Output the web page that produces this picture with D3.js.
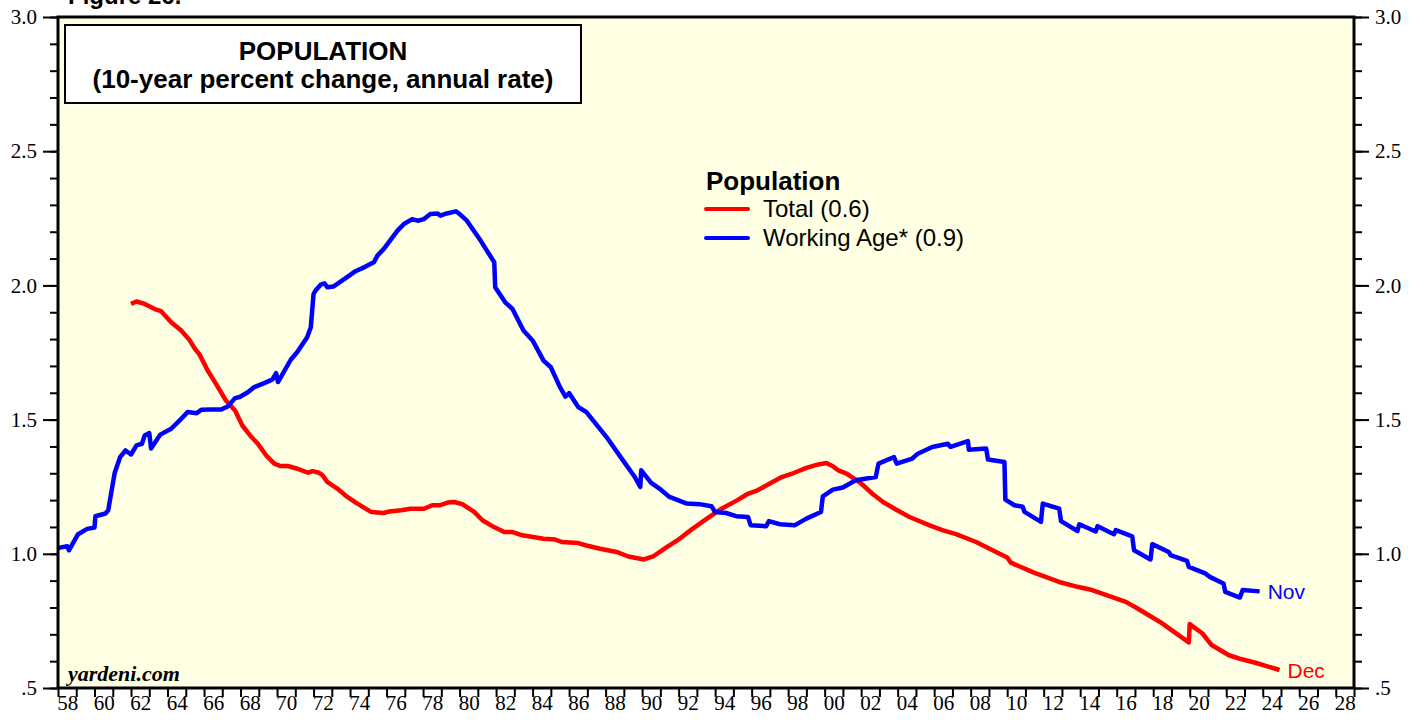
<!DOCTYPE html>
<html>
<head>
<meta charset="utf-8">
<script src="https://cdn.jsdelivr.net/npm/d3@7"></script>
<style>
  body { margin: 0; background: #fff; }
  svg { display: block; }
</style>
</head>
<body>
<svg id="chart" width="1419" height="721"></svg>
<script>
// Total population, 10-yr % change (annual rate); dates as decimal years
const totalDates = [1962.0,1962.3,1962.75,1963.3,1963.65,1964.2,1964.75,1965.2,1965.5,1965.75,1966.2,1966.65,1967.2,1967.7,1968.1,1968.6,1968.95,1969.4,1969.85,1970.2,1970.6,1971.1,1971.7,1971.95,1972.3,1972.5,1972.75,1973.3,1973.85,1974.4,1975.15,1975.85,1976.15,1976.8,1977.3,1978.05,1978.5,1978.95,1979.35,1979.7,1980.15,1980.8,1981.25,1981.8,1982.45,1982.9,1983.45,1984.6,1985.25,1985.6,1986.5,1986.95,1987.7,1988.6,1989.25,1990.1,1990.6,1991.35,1992.05,1992.7,1993.55,1994.35,1995.2,1995.75,1996.25,1997.0,1997.65,1998.3,1999.0,1999.65,2000.1,2000.45,2000.75,2001.2,2002.0,2002.65,2003.2,2003.9,2004.65,2005.75,2006.45,2007.2,2008.3,2009.2,2010.0,2010.2,2011.5,2012.85,2013.85,2014.65,2015.6,2016.5,2017.05,2018.35,2019.95,2020.0,2020.7,2021.2,2022.15,2022.85,2023.6,2024.92];
const totalValues = [1.931,1.94,1.931,1.912,1.904,1.863,1.832,1.797,1.764,1.743,1.683,1.634,1.571,1.534,1.478,1.435,1.41,1.367,1.336,1.327,1.327,1.317,1.302,1.308,1.302,1.292,1.268,1.243,1.212,1.187,1.156,1.152,1.158,1.162,1.168,1.168,1.181,1.181,1.191,1.193,1.185,1.156,1.125,1.103,1.081,1.081,1.069,1.056,1.053,1.044,1.040,1.031,1.019,1.007,0.99,0.979,0.99,1.025,1.056,1.09,1.131,1.168,1.199,1.222,1.234,1.262,1.286,1.301,1.320,1.333,1.338,1.326,1.311,1.299,1.262,1.222,1.193,1.165,1.137,1.106,1.088,1.073,1.044,1.013,0.986,0.967,0.929,0.895,0.877,0.865,0.842,0.821,0.80,0.747,0.670,0.738,0.703,0.66,0.622,0.607,0.594,0.567];

// Working age population
const workDates = [1958.0,1958.1,1958.5,1958.6,1959.1,1959.6,1960.0,1960.05,1960.6,1960.75,1961.1,1961.4,1961.7,1962.0,1962.3,1962.6,1962.75,1963.0,1963.1,1963.6,1964.2,1964.75,1965.1,1965.6,1965.85,1966.4,1966.95,1967.3,1967.7,1967.95,1968.4,1968.75,1969.3,1969.75,1969.95,1970.05,1970.75,1971.1,1971.65,1971.85,1972.0,1972.1,1972.4,1972.6,1972.75,1973.1,1973.7,1974.3,1974.85,1975.3,1975.5,1975.85,1976.6,1976.95,1977.4,1977.7,1978.05,1978.4,1978.8,1978.95,1979.3,1979.8,1980.05,1980.4,1981.15,1981.9,1981.95,1982.5,1982.9,1983.5,1984.0,1984.6,1985.0,1985.5,1985.8,1986.0,1986.5,1986.95,1988.05,1988.95,1989.6,1989.9,1989.95,1990.5,1990.95,1991.5,1992.45,1993.15,1993.8,1994.0,1994.6,1995.15,1995.8,1995.95,1996.8,1996.95,1997.55,1998.35,1999.0,1999.8,1999.9,2000.45,2001.0,2001.7,2002.8,2002.95,2003.8,2003.95,2004.8,2005.1,2005.9,2006.75,2006.9,2007.85,2007.9,2008.85,2008.95,2009.85,2009.9,2010.4,2010.85,2010.95,2011.85,2011.95,2012.85,2012.95,2013.85,2013.95,2014.85,2014.95,2015.85,2015.95,2016.85,2016.95,2017.85,2017.95,2018.85,2018.95,2019.85,2019.95,2020.85,2021.1,2021.85,2021.95,2022.75,2022.9,2023.83];
const workValues = [1.02,1.023,1.028,1.013,1.073,1.093,1.098,1.14,1.15,1.162,1.30,1.36,1.385,1.37,1.404,1.410,1.441,1.45,1.392,1.444,1.466,1.503,1.528,1.524,1.537,1.538,1.538,1.549,1.58,1.584,1.602,1.621,1.636,1.65,1.673,1.64,1.723,1.751,1.807,1.844,1.968,1.98,2.003,2.008,1.993,1.996,2.024,2.053,2.07,2.086,2.111,2.136,2.204,2.229,2.247,2.241,2.247,2.266,2.268,2.26,2.268,2.276,2.263,2.241,2.167,2.086,1.993,1.937,1.912,1.832,1.795,1.72,1.695,1.621,1.586,1.599,1.547,1.528,1.435,1.348,1.286,1.249,1.311,1.264,1.243,1.212,1.187,1.185,1.177,1.156,1.152,1.140,1.137,1.106,1.103,1.122,1.11,1.106,1.131,1.156,1.214,1.239,1.247,1.274,1.286,1.336,1.36,1.336,1.355,1.373,1.398,1.41,1.398,1.42,1.388,1.392,1.351,1.342,1.202,1.181,1.175,1.156,1.119,1.187,1.168,1.122,1.085,1.11,1.083,1.103,1.073,1.088,1.065,1.013,0.979,1.036,1.007,0.995,0.974,0.951,0.927,0.914,0.889,0.858,0.837,0.865,0.86];

const yMajorTicks = [0.5, 1.0, 1.5, 2.0, 2.5, 3.0];
const yMajorLabels = [".5", "1.0", "1.5", "2.0", "2.5", "3.0"];
const yMinorTicks = d3.range(5, 31).map(d => d / 10);
const yearTicks = d3.range(1958, 2030);
const xLabelYears = d3.range(1958, 2029, 2);
const xLabels = xLabelYears.map(y => String(y % 100).padStart(2, '0'));

const seriesNames = ["Total (0.6)", "Working Age* (0.9)"];
const seriesColors = ["#ff0000", "#0000ff"];
const endLabels = ["Dec", "Nov"];

const svg = d3.select('#chart');
const plotLeft = 58, plotRight = 1354, plotTop = 17, plotBottom = 688;

const x = d3.scaleLinear().domain([1958, 2029]).range([plotLeft, plotRight]);
const y = d3.scaleLinear().domain([0.5, 3.0]).range([plotBottom, plotTop]);

// plot background
svg.append('rect')
  .attr('x', plotLeft).attr('y', plotTop)
  .attr('width', plotRight - plotLeft).attr('height', plotBottom - plotTop)
  .attr('fill', '#ffffe3');

// figure caption, cut at the top edge as in the original
svg.append('text')
  .attr('x', 68).attr('y', 4)
  .attr('font-family', 'Liberation Sans, Arial, sans-serif')
  .attr('font-weight', 'bold').attr('font-size', 24)
  .text('Figure 26.');

// y axes: minor + major, left and right
function yAxis(gen, xpos, values, size, labels) {
  const g = svg.append('g')
    .attr('transform', `translate(${xpos},0)`)
    .call(gen(y).tickValues(values).tickSize(size).tickPadding(6)
      .tickFormat((d, i) => labels ? labels[i] : ''));
  g.select('.domain').remove();
  g.selectAll('line').attr('stroke', '#000').attr('stroke-width', 2);
  g.selectAll('text')
    .attr('font-family', 'Liberation Serif, Times New Roman, serif')
    .attr('font-size', 21).attr('fill', '#000');
}
yAxis(d3.axisLeft, plotLeft, yMinorTicks, 8, null);
yAxis(d3.axisLeft, plotLeft, yMajorTicks, 15, yMajorLabels);
yAxis(d3.axisRight, plotRight, yMinorTicks, 8, null);
yAxis(d3.axisRight, plotRight, yMajorTicks, 15, yMajorLabels);

// x axis: year ticks, labels centred in the year
const gx = svg.append('g')
  .attr('transform', `translate(0,${plotBottom})`)
  .call(d3.axisBottom(x).tickValues(yearTicks).tickSize(9).tickFormat(''));
gx.select('.domain').remove();
gx.selectAll('line').attr('stroke', '#000').attr('stroke-width', 2);

const gxl = svg.append('g')
  .attr('transform', `translate(0,${plotBottom})`)
  .call(d3.axisBottom(x).tickValues(xLabelYears.map(d => d + 0.5)).tickSize(0).tickPadding(7)
    .tickFormat((d, i) => xLabels[i]));
gxl.select('.domain').remove();
gxl.selectAll('text')
  .attr('font-family', 'Liberation Serif, Times New Roman, serif')
  .attr('font-size', 21).attr('fill', '#000');

// lines
svg.append('clipPath').attr('id', 'clip')
  .append('rect').attr('x', plotLeft).attr('y', plotTop)
  .attr('width', plotRight - plotLeft).attr('height', plotBottom - plotTop);

const line = d3.line().x(d => x(d[0])).y(d => y(d[1]));
const series = [
  d3.zip(totalDates, totalValues),
  d3.zip(workDates, workValues)
];

series.forEach((data, i) => {
  svg.append('path')
    .datum(data)
    .attr('clip-path', 'url(#clip)')
    .attr('fill', 'none')
    .attr('stroke', seriesColors[i])
    .attr('stroke-width', 4.5)
    .attr('stroke-linejoin', 'round')
    .attr('d', line);

  const last = data[data.length - 1];
  svg.append('text')
    .attr('x', x(last[0]) + 8)
    .attr('y', y(last[1]) + 8)
    .attr('font-family', 'Liberation Sans, Arial, sans-serif')
    .attr('font-size', 21)
    .attr('fill', seriesColors[i])
    .text(endLabels[i]);
});

// frame
svg.append('rect')
  .attr('x', plotLeft).attr('y', plotTop)
  .attr('width', plotRight - plotLeft).attr('height', plotBottom - plotTop)
  .attr('fill', 'none').attr('stroke', '#000').attr('stroke-width', 3);

// title box
svg.append('rect')
  .attr('x', 65).attr('y', 25).attr('width', 516).attr('height', 78)
  .attr('fill', '#fff').attr('stroke', '#000').attr('stroke-width', 2);
const title = svg.append('text')
  .attr('text-anchor', 'middle')
  .attr('font-family', 'Liberation Sans, Arial, sans-serif')
  .attr('font-weight', 'bold').attr('font-size', 26);
title.append('tspan').attr('x', 323).attr('y', 60).text('POPULATION');
title.append('tspan').attr('x', 323).attr('y', 88).text('(10-year percent change, annual rate)');

// legend
svg.append('text')
  .attr('x', 706).attr('y', 190)
  .attr('font-family', 'Liberation Sans, Arial, sans-serif')
  .attr('font-weight', 'bold').attr('font-size', 26)
  .text('Population');
seriesNames.forEach((name, i) => {
  const ly = 209 + i * 29;
  svg.append('line')
    .attr('x1', 706).attr('x2', 748).attr('y1', ly).attr('y2', ly)
    .attr('stroke', seriesColors[i]).attr('stroke-width', 4)
    .attr('stroke-linecap', 'round');
  svg.append('text')
    .attr('x', 763).attr('y', ly + 8)
    .attr('font-family', 'Liberation Sans, Arial, sans-serif')
    .attr('font-size', 24)
    .text(name);
});

// source
svg.append('text')
  .attr('x', 68).attr('y', 681)
  .attr('font-family', 'Liberation Serif, Times New Roman, serif')
  .attr('font-weight', 'bold').attr('font-style', 'italic').attr('font-size', 22)
  .text('yardeni.com');
</script>
</body>
</html>
